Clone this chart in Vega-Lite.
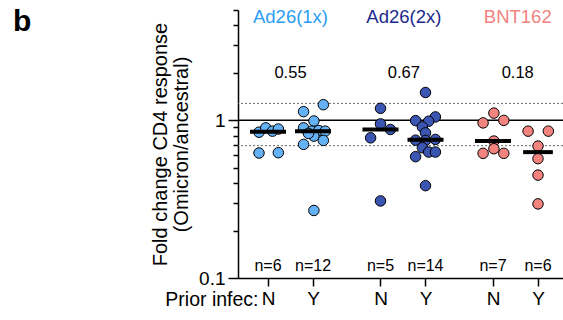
{
  "$schema": "https://vega.github.io/schema/vega-lite/v6.json",
  "width": 325,
  "height": 268,
  "autosize": {"type": "none"},
  "padding": {"left": 238, "top": 10, "right": 0, "bottom": 42},
  "background": "white",
  "config": {
    "view": {"stroke": null},
    "font": "Liberation Sans",
    "axis": {"grid": false, "domainColor": "black", "tickColor": "black", "labelColor": "black", "titleColor": "black", "domainWidth": 1.5, "tickWidth": 1.5}
  },
  "title": {"text": "b", "fontSize": 30, "fontWeight": "bold", "anchor": "start", "frame": "group", "dx": -225, "offset": -60, "baseline": "alphabetic", "color": "black"},
  "datasets": {
    "points": [
      {"group": "Ad26(1x)", "infec": "N", "x": 0.8, "y": 0.84},
      {"group": "Ad26(1x)", "infec": "N", "x": 0.95, "y": 0.895},
      {"group": "Ad26(1x)", "infec": "N", "x": 1.1, "y": 0.853},
      {"group": "Ad26(1x)", "infec": "N", "x": 1.23, "y": 0.88},
      {"group": "Ad26(1x)", "infec": "N", "x": 0.8, "y": 0.62},
      {"group": "Ad26(1x)", "infec": "N", "x": 1.23, "y": 0.623},
      {"group": "Ad26(1x)", "infec": "Y", "x": 2.23, "y": 1.255},
      {"group": "Ad26(1x)", "infec": "Y", "x": 1.79, "y": 1.134},
      {"group": "Ad26(1x)", "infec": "Y", "x": 2.02, "y": 0.99},
      {"group": "Ad26(1x)", "infec": "Y", "x": 1.79, "y": 0.895},
      {"group": "Ad26(1x)", "infec": "Y", "x": 1.97, "y": 0.853},
      {"group": "Ad26(1x)", "infec": "Y", "x": 2.13, "y": 0.861},
      {"group": "Ad26(1x)", "infec": "Y", "x": 2.27, "y": 0.853},
      {"group": "Ad26(1x)", "infec": "Y", "x": 2.02, "y": 0.793},
      {"group": "Ad26(1x)", "infec": "Y", "x": 1.9, "y": 0.825},
      {"group": "Ad26(1x)", "infec": "Y", "x": 2.23, "y": 0.745},
      {"group": "Ad26(1x)", "infec": "Y", "x": 1.79, "y": 0.703},
      {"group": "Ad26(1x)", "infec": "Y", "x": 2.02, "y": 0.268},
      {"group": "Ad26(2x)", "infec": "N", "x": 3.5, "y": 1.19},
      {"group": "Ad26(2x)", "infec": "N", "x": 3.5, "y": 0.948},
      {"group": "Ad26(2x)", "infec": "N", "x": 3.72, "y": 0.874},
      {"group": "Ad26(2x)", "infec": "N", "x": 3.28, "y": 0.774},
      {"group": "Ad26(2x)", "infec": "N", "x": 3.5, "y": 0.308},
      {"group": "Ad26(2x)", "infec": "Y", "x": 4.5, "y": 1.5},
      {"group": "Ad26(2x)", "infec": "Y", "x": 4.72, "y": 1.05},
      {"group": "Ad26(2x)", "infec": "Y", "x": 4.28, "y": 0.995},
      {"group": "Ad26(2x)", "infec": "Y", "x": 4.57, "y": 0.986},
      {"group": "Ad26(2x)", "infec": "Y", "x": 4.43, "y": 0.908},
      {"group": "Ad26(2x)", "infec": "Y", "x": 4.5, "y": 0.832},
      {"group": "Ad26(2x)", "infec": "Y", "x": 4.28, "y": 0.748},
      {"group": "Ad26(2x)", "infec": "Y", "x": 4.72, "y": 0.756},
      {"group": "Ad26(2x)", "infec": "Y", "x": 4.5, "y": 0.745},
      {"group": "Ad26(2x)", "infec": "Y", "x": 4.43, "y": 0.67},
      {"group": "Ad26(2x)", "infec": "Y", "x": 4.57, "y": 0.629},
      {"group": "Ad26(2x)", "infec": "Y", "x": 4.72, "y": 0.629},
      {"group": "Ad26(2x)", "infec": "Y", "x": 4.28, "y": 0.588},
      {"group": "Ad26(2x)", "infec": "Y", "x": 4.5, "y": 0.385},
      {"group": "BNT162", "infec": "N", "x": 6.02, "y": 1.11},
      {"group": "BNT162", "infec": "N", "x": 5.78, "y": 0.962},
      {"group": "BNT162", "infec": "N", "x": 6.24, "y": 0.998},
      {"group": "BNT162", "infec": "N", "x": 6.02, "y": 0.738},
      {"group": "BNT162", "infec": "N", "x": 6.02, "y": 0.66},
      {"group": "BNT162", "infec": "N", "x": 5.78, "y": 0.617},
      {"group": "BNT162", "infec": "N", "x": 6.24, "y": 0.617},
      {"group": "BNT162", "infec": "Y", "x": 6.78, "y": 0.853},
      {"group": "BNT162", "infec": "Y", "x": 7.23, "y": 0.853},
      {"group": "BNT162", "infec": "Y", "x": 7.0, "y": 0.686},
      {"group": "BNT162", "infec": "Y", "x": 7.0, "y": 0.571},
      {"group": "BNT162", "infec": "Y", "x": 7.0, "y": 0.449},
      {"group": "BNT162", "infec": "Y", "x": 7.0, "y": 0.295}
    ],
    "medians": [
      {"group": "Ad26(1x)", "infec": "N", "x_lo": 0.6, "x_hi": 1.4, "median": 0.846},
      {"group": "Ad26(1x)", "infec": "Y", "x_lo": 1.6, "x_hi": 2.4, "median": 0.853},
      {"group": "Ad26(2x)", "infec": "N", "x_lo": 3.1, "x_hi": 3.9, "median": 0.874},
      {"group": "Ad26(2x)", "infec": "Y", "x_lo": 4.1, "x_hi": 4.9, "median": 0.752},
      {"group": "BNT162", "infec": "N", "x_lo": 5.6, "x_hi": 6.4, "median": 0.738},
      {"group": "BNT162", "infec": "Y", "x_lo": 6.67, "x_hi": 7.33, "median": 0.628}
    ],
    "groups": [
      {"group": "Ad26(1x)", "x": 1.5, "ratio": "0.55"},
      {"group": "Ad26(2x)", "x": 4.02, "ratio": "0.67"},
      {"group": "BNT162", "x": 6.55, "ratio": "0.18"}
    ],
    "counts": [
      {"x": 1, "n": "n=6"},
      {"x": 2, "n": "n=12"},
      {"x": 3.5, "n": "n=5"},
      {"x": 4.5, "n": "n=14"},
      {"x": 6, "n": "n=7"},
      {"x": 7, "n": "n=6"}
    ],
    "refs": [
      {"y": 1, "kind": "solid"},
      {"y": 1.28, "kind": "dotted"},
      {"y": 0.69, "kind": "dotted"}
    ]
  },
  "encoding": {
    "x": {
      "type": "quantitative",
      "scale": {"domain": [0.3333, 7.5556], "nice": false, "zero": false},
      "axis": {
        "values": [1, 2, 3.5, 4.5, 6, 7],
        "labelExpr": "datum.value == 1 || datum.value == 3.5 || datum.value == 6 ? 'N' : 'Y'",
        "labelFontSize": 19,
        "tickSize": 8,
        "labelPadding": 3,
        "labelFlush": false,
        "title": "Prior infec:",
        "titleFontSize": 19.5,
        "titleFontWeight": "normal",
        "titleAngle": 0,
        "titleAlign": "right",
        "titleBaseline": "middle",
        "titleX": 20,
        "titleY": 21
      }
    }
  },
  "layer": [
    {
      "data": {"name": "refs"},
      "transform": [{"filter": "datum.kind == 'dotted'"}],
      "mark": {"type": "rule", "color": "#666666", "strokeWidth": 1, "strokeDash": [2, 2]},
      "encoding": {"x": null, "y": {"field": "y", "type": "quantitative"}}
    },
    {
      "data": {"name": "refs"},
      "transform": [{"filter": "datum.kind == 'solid'"}],
      "mark": {"type": "rule", "color": "black", "strokeWidth": 1.3},
      "encoding": {
        "x": null,
        "y": {
          "field": "y",
          "type": "quantitative",
          "scale": {"type": "log", "domain": [0.1, 5], "nice": false},
          "axis": {
            "values": [0.1, 0.2, 0.3, 0.4, 0.5, 0.6, 0.7, 0.8, 0.9, 1, 2, 3, 4, 5],
            "labelExpr": "datum.value == 1 ? '1' : (datum.value < 0.15 ? '0.1' : '')",
            "labelFontSize": 19,
            "tickSize": {"condition": {"test": "datum.value == 1 || datum.value < 0.15", "value": 10}, "value": 5},
            "labelPadding": 3,
            "labelFlush": false,
            "labelOverlap": false,
            "title": ["Fold change CD4 response", "(Omicron/ancestral)"],
            "titleFontSize": 20,
            "titleFontWeight": "normal",
            "titleLineHeight": 21,
            "titlePadding": 7
          }
        }
      }
    },
    {
      "data": {"name": "points"},
      "mark": {"type": "point", "shape": "circle", "filled": true, "size": 110, "stroke": "black", "strokeWidth": 1, "opacity": 1},
      "encoding": {
        "x": {"field": "x", "type": "quantitative"},
        "y": {"field": "y", "type": "quantitative"},
        "fill": {"field": "group", "type": "nominal", "scale": {"domain": ["Ad26(1x)", "Ad26(2x)", "BNT162"], "range": ["#64b1f6", "#3b55b3", "#f2837e"]}, "legend": null}
      }
    },
    {
      "data": {"name": "medians"},
      "mark": {"type": "rule", "color": "black", "strokeWidth": 4},
      "encoding": {
        "x": {"field": "x_lo", "type": "quantitative"},
        "x2": {"field": "x_hi"},
        "y": {"field": "median", "type": "quantitative"}
      }
    },
    {
      "data": {"name": "groups"},
      "mark": {"type": "text", "fontSize": 18.5, "baseline": "middle", "align": "center"},
      "encoding": {
        "x": {"field": "x", "type": "quantitative"},
        "y": {"datum": 4.5, "type": "quantitative"},
        "text": {"field": "group"},
        "color": {"field": "group", "type": "nominal", "scale": {"domain": ["Ad26(1x)", "Ad26(2x)", "BNT162"], "range": ["#2a9cf4", "#1c2a8e", "#f2837e"]}, "legend": null}
      }
    },
    {
      "data": {"name": "groups"},
      "mark": {"type": "text", "fontSize": 16.5, "baseline": "middle", "align": "center", "color": "black"},
      "encoding": {
        "x": {"field": "x", "type": "quantitative"},
        "y": {"datum": 2, "type": "quantitative"},
        "text": {"field": "ratio"}
      }
    },
    {
      "data": {"name": "counts"},
      "mark": {"type": "text", "fontSize": 16, "baseline": "middle", "align": "center", "color": "black"},
      "encoding": {
        "x": {"field": "x", "type": "quantitative"},
        "y": {"datum": 0.12, "type": "quantitative"},
        "text": {"field": "n"}
      }
    }
  ]
}
